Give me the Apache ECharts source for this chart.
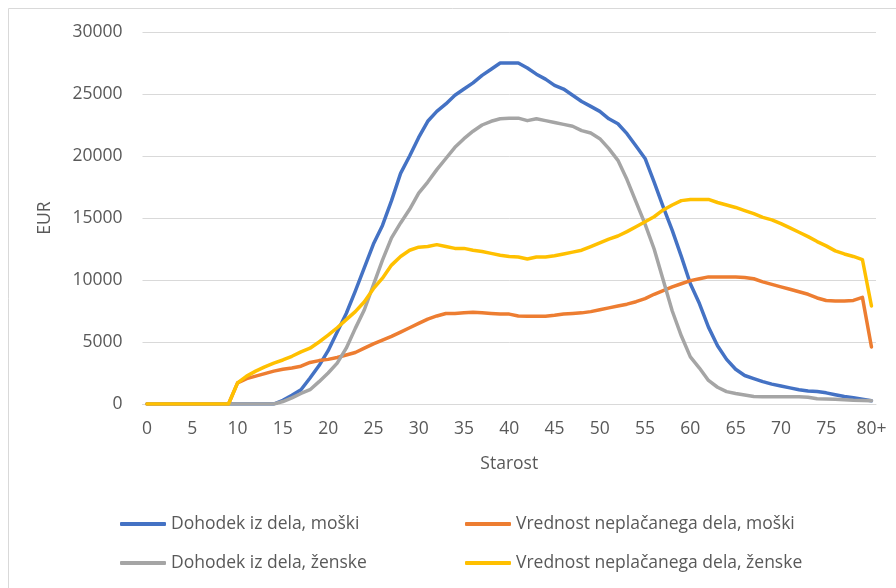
<!DOCTYPE html>
<html>
<head>
<meta charset="utf-8">
<script src="https://cdn.jsdelivr.net/npm/echarts@6/dist/echarts.min.js"></script>
<style>
	html, body { margin: 0; padding: 0; background: #fff; }
	#chart { width: 896px; height: 588px; }
</style>
</head>
<body>
<div id="chart"></div>
<script>
	// starost 0..80+
	const ages = []
	for (let i = 0; i <= 80; i++) ages.push(i === 80 ? '80+' : String(i))

	const seriesNames = [
		'Dohodek iz dela, moški',
		'Vrednost neplačanega dela, moški',
		'Dohodek iz dela, ženske',
		'Vrednost neplačanega dela, ženske'
	]

	const incomeMen = [
		0, 0, 0, 0, 0, 0, 0, 0, 0, 0,
		0, 0, 0, 0, 0, 300, 700, 1150, 2100, 3100,
		4300, 5800, 7300, 9100, 11000, 12900, 14400, 16400, 18600, 20000,
		21500, 22800, 23600, 24200, 24900, 25400, 25900, 26500, 27000, 27500,
		27500, 27500, 27100, 26600, 26200, 25700, 25400, 24900, 24400, 24000,
		23600, 23000, 22600, 21800, 20800, 19800, 17900, 15900, 14000, 11900,
		9700, 8100, 6200, 4700, 3600, 2800, 2300, 2050, 1800, 1600,
		1450, 1300, 1150, 1050, 1000, 900, 750, 600, 500, 380,
		270
	]
	const unpaidMen = [
		0, 0, 0, 0, 0, 0, 0, 0, 0, 0,
		1700, 2050, 2250, 2450, 2650, 2800, 2900, 3050, 3350, 3500,
		3600, 3750, 3950, 4150, 4500, 4850, 5150, 5450, 5800, 6150,
		6500, 6850, 7100, 7300, 7300, 7350, 7400, 7350, 7300, 7250,
		7250, 7100, 7080, 7080, 7080, 7150, 7250, 7300, 7350, 7450,
		7600, 7750, 7900, 8050, 8250, 8500, 8850, 9150, 9450, 9700,
		9950, 10100, 10250, 10250, 10250, 10250, 10200, 10100, 9850, 9650,
		9450, 9250, 9050, 8850, 8550, 8350, 8300, 8300, 8350, 8600,
		4600
	]
	const incomeWomen = [
		0, 0, 0, 0, 0, 0, 0, 0, 0, 0,
		0, 0, 0, 0, 0, 200, 500, 850, 1150, 1800,
		2500, 3300, 4500, 6100, 7600, 9600, 11600, 13400, 14600, 15700,
		17000, 17900, 18900, 19800, 20700, 21400, 22000, 22500, 22800, 23000,
		23050, 23050, 22850, 23000, 22850, 22700, 22550, 22400, 22050, 21850,
		21400, 20600, 19650, 18100, 16300, 14500, 12500, 10000, 7500, 5500,
		3800, 2900, 1900, 1350, 1000, 850, 720, 600, 580, 580,
		580, 580, 580, 550, 420, 400, 380, 340, 300, 280,
		270
	]
	const unpaidWomen = [
		0, 0, 0, 0, 0, 0, 0, 0, 0, 0,
		1700, 2250, 2650, 3000, 3300, 3550, 3850, 4200, 4500, 5000,
		5550, 6150, 6800, 7450, 8250, 9300, 10150, 11200, 11900, 12400,
		12650, 12700, 12850, 12700, 12550, 12550, 12400, 12300, 12150, 12000,
		11900, 11850, 11700, 11850, 11850, 11950, 12100, 12250, 12400, 12700,
		13000, 13300, 13550, 13900, 14300, 14700, 15100, 15650, 16050, 16400,
		16500, 16500, 16500, 16250, 16050, 15850, 15600, 15350, 15050, 14850,
		14550, 14200, 13850, 13500, 13100, 12750, 12350, 12100, 11900, 11650,
		7900
	]

	const colors = ['#4472c4', '#ed7d31', '#a5a5a5', '#ffc000']
	const font = 'Open Sans'
	const textColor = '#595959'
	const fs = 17.5

	var myChart = echarts.init(document.getElementById('chart'), null, { renderer: 'canvas' })

	const legendCommon = {
		orient: 'vertical',
		top: 512,
		padding: 0,
		itemWidth: 46,
		itemHeight: 4,
		itemGap: 15,
		icon: 'roundRect',
		textStyle: { color: textColor, fontSize: fs, fontFamily: font, lineHeight: 24 }
	}

	myChart.setOption({
		animation: false,
		color: colors,
		graphic: [
			{
				type: 'rect',
				shape: { x: 8.5, y: 8.5, width: 900, height: 600 },
				style: { fill: 'none', stroke: '#d9d9d9', lineWidth: 1 },
				silent: true
			}
		],
		grid: {
			left: 142.5,
			right: 20,
			top: 32,
			bottom: 184
		},
		legend: [
			Object.assign({ left: 120, data: [seriesNames[0], seriesNames[2]] }, legendCommon),
			Object.assign({ left: 465, data: [seriesNames[1], seriesNames[3]] }, legendCommon)
		],
		xAxis: {
			type: 'category',
			data: ages,
			boundaryGap: true,
			name: 'Starost',
			nameLocation: 'middle',
			nameGap: 51,
			nameTextStyle: { color: textColor, fontSize: fs, fontFamily: font },
			axisLine: { lineStyle: { color: '#d9d9d9', width: 1 } },
			axisTick: { show: false },
			axisLabel: {
				interval: 4,
				color: textColor,
				fontSize: fs,
				fontFamily: font,
				margin: 16
			}
		},
		yAxis: {
			type: 'value',
			min: 0,
			max: 30000,
			interval: 5000,
			name: 'EUR',
			nameLocation: 'middle',
			nameRotate: 90,
			nameGap: 88,
			nameTextStyle: { color: textColor, fontSize: fs, fontFamily: font },
			axisLine: { show: false },
			axisTick: { show: false },
			axisLabel: {
				color: textColor,
				fontSize: fs,
				fontFamily: font,
				margin: 20,
				formatter: v => String(v)
			},
			splitLine: { lineStyle: { color: '#d9d9d9', width: 1 } }
		},
		series: [
			{ name: seriesNames[0], type: 'line', data: incomeMen },
			{ name: seriesNames[1], type: 'line', data: unpaidMen },
			{ name: seriesNames[2], type: 'line', data: incomeWomen },
			{ name: seriesNames[3], type: 'line', data: unpaidWomen }
		].map(s => Object.assign(s, {
			showSymbol: false,
			symbol: 'none',
			lineStyle: { width: 3.5, cap: 'round', join: 'round' }
		}))
	})
</script>
</body>
</html>
